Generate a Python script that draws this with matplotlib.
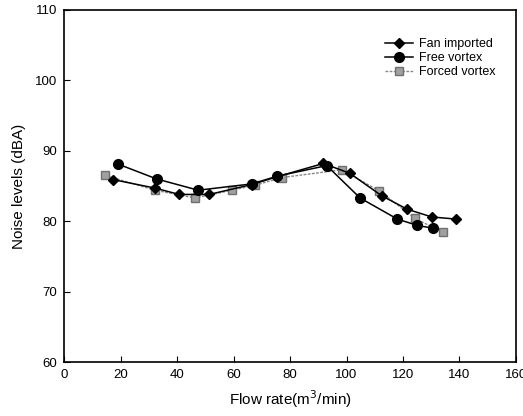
import matplotlib
matplotlib.use("Agg")
import matplotlib.pyplot as plt

plt.rcParams['font.family'] = ['Liberation Sans', 'DejaVu Sans']

fan_x = [17.5, 32.2, 40.8, 51.4, 66.4, 75.3, 91.8, 101.2, 112.5, 121.5, 130.2, 138.8]
fan_y = [85.9, 84.7, 83.8, 83.8, 85.2, 86.3, 88.2, 86.8, 83.6, 81.7, 80.6, 80.3]

free_x = [19.2, 32.8, 47.5, 66.5, 75.5, 93.0, 104.8, 118.0, 125.1, 130.7]
free_y = [88.1, 86.0, 84.4, 85.3, 86.4, 87.9, 83.3, 80.3, 79.4, 79.0]

forced_x = [14.5, 32.2, 46.4, 59.4, 67.6, 77.1, 98.3, 111.6, 124.3, 134.1]
forced_y = [86.5, 84.4, 83.3, 84.4, 85.1, 86.2, 87.3, 84.3, 80.4, 78.4]

x_ticks = [0, 20, 40, 60, 80, 100, 120, 140, 160]
y_ticks = [60, 70, 80, 90, 100, 110]

fig = plt.figure(figsize=(5.23, 4.16), dpi=100)
ax = fig.add_axes([0.1224, 0.1298, 0.8642, 0.8462])

ax.plot(fan_x, fan_y, color='black', lw=1.1, marker='D', ms=5.5,
        label='Fan imported', zorder=3)
ax.plot(free_x, free_y, color='black', lw=1.1, marker='o', ms=7,
        label='Free vortex', zorder=3)
ax.plot(forced_x, forced_y, color='#888888', lw=1.0, ls=(0, (2, 1)), marker='s', ms=5.5,
        markerfacecolor='#a0a0a0', markeredgecolor='#707070',
        label='Forced vortex', zorder=2)

ax.set_xlim(0, 160)
ax.set_ylim(60, 110)
ax.set_xticks(x_ticks)
ax.set_yticks(y_ticks)
ax.tick_params(direction='in', length=4, width=0.8, labelsize=9.5, pad=5)
for s in ax.spines.values():
    s.set_linewidth(1.2)

ax.set_xlabel('Flow rate(m$^3$/min)', fontsize=11, labelpad=5)
ax.set_ylabel('Noise levels (dBA)', fontsize=11, labelpad=6)

leg = ax.legend(loc='upper right', bbox_to_anchor=(0.955, 0.92), frameon=False,
                fontsize=9, handlelength=2.2, handletextpad=0.5,
                labelspacing=0.15, borderaxespad=0, borderpad=0)

fig.savefig('out.png', dpi=100)
